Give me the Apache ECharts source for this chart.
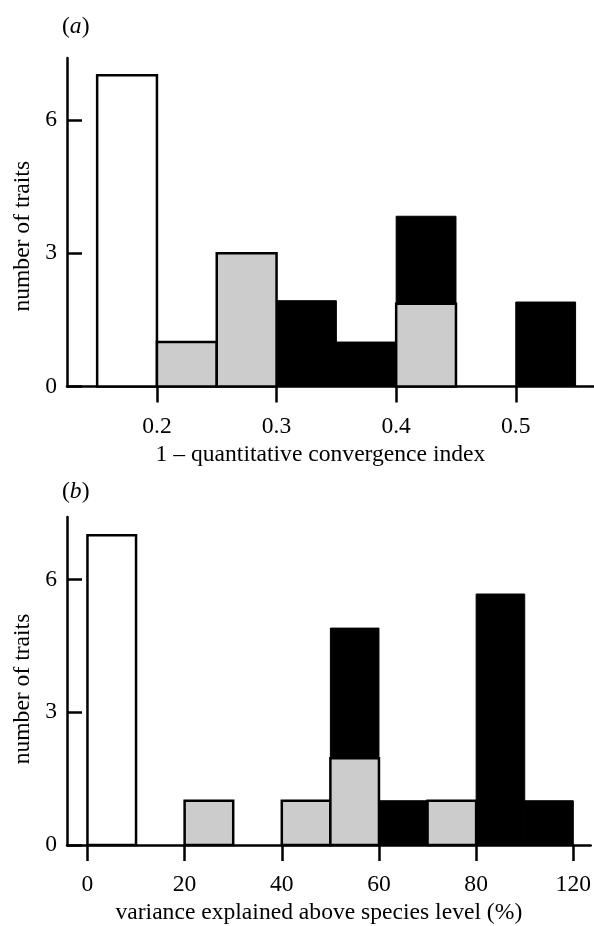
<!DOCTYPE html>
<html>
<head>
<meta charset="utf-8">
<script src="https://cdn.jsdelivr.net/npm/echarts@6/dist/echarts.min.js"></script>
<style>
html,body{margin:0;padding:0;background:#fff;}
#chart{width:594px;height:926px;}
</style>
</head>
<body>
<div id="chart"></div>
<script>
// ---- Data ----
// Panel (a): 1 - quantitative convergence index, bins of width 0.05
const binsA = [0.15, 0.20, 0.25, 0.30, 0.35, 0.40, 0.50];
const binWidthA = 0.05;
const openA  = [7, 0, 0, 0,   0, 0,    0];
const greyA  = [0, 1, 3, 0,   0, 1.86, 0];
const blackA = [0, 0, 0, 1.93, 1, 1.97, 1.9];
const xTicksA = [0.2, 0.3, 0.4, 0.5];
const xTickLabelsA = ['0.2', '0.3', '0.4', '0.5'];

// Panel (b): variance explained above species level (%), bins of width 10
const binsB = [0, 20, 40, 50, 60, 70, 80, 90];
const binWidthB = 10;
const openB  = [7, 0, 0, 0,   0, 0, 0,   0];
const greyB  = [0, 1, 1, 1.96, 0, 1, 0,   0];
const blackB = [0, 0, 0, 2.94, 1, 0, 5.67, 1];
const xTicksB = [0, 20, 40, 60, 80, 100];
const xTickLabelsB = ['0', '20', '40', '60', '80', '120'];

const yTicks = [0, 3, 6];
const yTickLabels = ['0', '3', '6'];

const panelLabels = ['a', 'b'];
const xNames = ['1 \u2013 quantitative convergence index', 'variance explained above species level (%)'];
const yName = 'number of traits';

// ---- Build stacked rectangles ----
function buildRects(bins, width, open, grey, black) {
  const out = [];
  bins.forEach(function (b, i) {
    let base = 0;
    [[0, open[i]], [1, grey[i]], [2, black[i]]].forEach(function (kv) {
      const v = kv[1];
      if (v > 0) { out.push([b, b + width, base, base + v, kv[0]]); base += v; }
    });
  });
  return out;
}
const rectsA = buildRects(binsA, binWidthA, openA, greyA, blackA);
const rectsB = buildRects(binsB, binWidthB, openB, greyB, blackB);

const FONT = "'Liberation Serif', 'Times New Roman', serif";
const FS = 23.6;
const fills = ['#ffffff', '#cccccc', '#000000'];

function renderItem(params, api) {
  const p0 = api.coord([api.value(0), api.value(2)]);
  const p1 = api.coord([api.value(1), api.value(3)]);
  const k = api.value(4);
  return {
    type: 'rect',
    shape: { x: p0[0], y: p1[1], width: p1[0] - p0[0], height: p0[1] - p1[1] },
    style: { fill: fills[k], stroke: '#000', lineWidth: k === 2 ? 1 : 2.5 }
  };
}

function xAxisFor(idx, min, max, ticks, labels) {
  return {
    type: 'value', gridIndex: idx, min: min, max: max,
    axisLine: { show: true, onZero: false, lineStyle: { color: '#000', width: 2.5 } },
    axisTick: { show: true, inside: false, length: 16, customValues: ticks, lineStyle: { color: '#000', width: 2.5 } },
    axisLabel: {
      show: true, customValues: ticks, margin: 28,
      color: '#000', fontFamily: FONT, fontSize: FS,
      formatter: function (v) { const i = ticks.indexOf(v); return i >= 0 ? labels[i] : ''; }
    },
    splitLine: { show: false },
    name: xNames[idx], nameLocation: 'middle', nameGap: 56,
    nameTextStyle: { color: '#000', fontFamily: FONT, fontSize: FS, padding: [0, 20, 0, 0] }
  };
}
function yAxisFor(idx, max, shiftPad) {
  return {
    type: 'value', gridIndex: idx, min: 0, max: max,
    axisLine: { show: true, onZero: false, lineStyle: { color: '#000', width: 2.5 } },
    axisTick: { show: true, inside: true, length: 15, customValues: yTicks, lineStyle: { color: '#000', width: 2.5 } },
    axisLabel: {
      show: true, customValues: yTicks, margin: 10,
      color: '#000', fontFamily: FONT, fontSize: FS,
      formatter: function (v) { const i = yTicks.indexOf(v); return i >= 0 ? yTickLabels[i] : ''; }
    },
    splitLine: { show: false },
    name: yName, nameLocation: 'middle', nameGap: 28,
    nameTextStyle: { color: '#000', fontFamily: FONT, fontSize: FS, padding: [0, shiftPad, 0, 0] }
  };
}

const chart = echarts.init(document.getElementById('chart'), null, { renderer: 'canvas' });
chart.setOption({
  backgroundColor: '#fff',
  animation: false,
  grid: [
    { left: 67, right: 0, top: 58, height: 328.5 },
    { left: 67, right: 0, top: 517, height: 329 }
  ],
  xAxis: [
    xAxisFor(0, 0.1248, 0.5654, xTicksA, xTickLabelsA),
    xAxisFor(1, -4.21, 103.58, xTicksB, xTickLabelsB)
  ],
  yAxis: [
    yAxisFor(0, 7.39, 28),
    yAxisFor(1, 7.41, 16)
  ],
  graphic: panelLabels.map(function (l, i) {
    return {
      type: 'text', left: 62, top: i === 0 ? 15 : 480,
      style: {
        text: '{n|(}{i|' + l + '}{n|)}',
        rich: {
          n: { fontFamily: FONT, fontSize: FS, fill: '#000' },
          i: { fontFamily: FONT, fontSize: FS, fontStyle: 'italic', fill: '#000' }
        }
      }
    };
  }),
  series: [
    { type: 'custom', xAxisIndex: 0, yAxisIndex: 0, renderItem: renderItem, data: rectsA, encode: { x: [0, 1], y: [2, 3] }, z: 1 },
    { type: 'custom', xAxisIndex: 1, yAxisIndex: 1, renderItem: renderItem, data: rectsB, encode: { x: [0, 1], y: [2, 3] }, z: 1 }
  ]
});
</script>
</body>
</html>
